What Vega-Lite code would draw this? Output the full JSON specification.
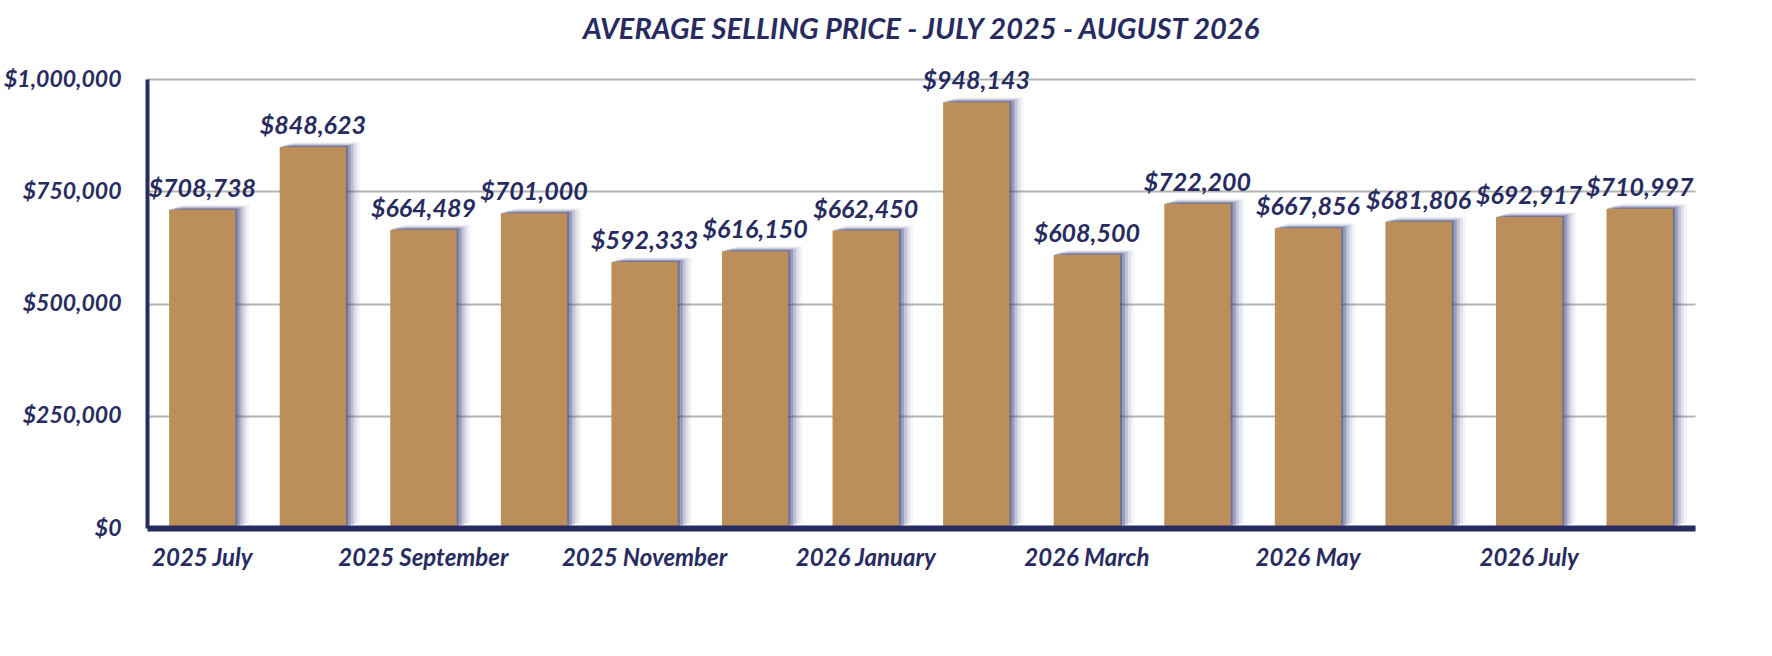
{
  "$schema": "https://vega.github.io/schema/vega-lite/v6.json",
  "width": 1548,
  "height": 449,
  "autosize": "none",
  "padding": {"left": 147, "top": 79, "right": 77, "bottom": 128},
  "background": "white",
  "view": {"stroke": null},
  "title": {
    "text": "AVERAGE SELLING PRICE - JULY 2025 - AUGUST 2026",
    "font": "Lato",
    "fontSize": 29,
    "fontWeight": "bold",
    "fontStyle": "italic",
    "color": "#272b60",
    "offset": 23,
    "anchor": "middle"
  },
  "data": {
    "values": [
      {"month": "2025 July", "price": 708738},
      {"month": "2025 August", "price": 848623},
      {"month": "2025 September", "price": 664489},
      {"month": "2025 October", "price": 701000},
      {"month": "2025 November", "price": 592333},
      {"month": "2025 December", "price": 616150},
      {"month": "2026 January", "price": 662450},
      {"month": "2026 February", "price": 948143},
      {"month": "2026 March", "price": 608500},
      {"month": "2026 April", "price": 722200},
      {"month": "2026 May", "price": 667856},
      {"month": "2026 June", "price": 681806},
      {"month": "2026 July", "price": 692917},
      {"month": "2026 August", "price": 710997}
    ]
  },
  "encoding": {
    "x": {
      "field": "month",
      "type": "nominal",
      "sort": null,
      "scale": {"paddingInner": 0.4, "paddingOuter": 0.2},
      "axis": {
        "title": null,
        "labelAngle": 0,
        "values": ["2025 July", "2025 September", "2025 November", "2026 January", "2026 March", "2026 May", "2026 July"],
        "ticks": false,
        "labelFont": "Lato",
        "labelFontSize": 24,
        "labelFontWeight": "bold",
        "labelFontStyle": "italic",
        "labelColor": "#272b60",
        "labelPadding": 18,
        "domainColor": "#272b60",
        "domainWidth": 6,
        "zindex": 1
      }
    },
    "y": {
      "field": "price",
      "type": "quantitative",
      "scale": {"domain": [0, 1000000]},
      "axis": {
        "title": null,
        "values": [0, 250000, 500000, 750000, 1000000],
        "format": "$,.0f",
        "ticks": false,
        "labelFont": "Lato",
        "labelFontSize": 23,
        "labelFontWeight": "bold",
        "labelFontStyle": "italic",
        "labelColor": "#272b60",
        "labelPadding": 26,
        "domainColor": "#272b60",
        "domainWidth": 4,
        "gridColor": "#b3b3b3",
        "gridWidth": 2
      }
    }
  },
  "layer": [
    {
      "mark": {"type": "bar", "color": "#6a70a0", "opacity": 0.08, "xOffset": 14, "yOffset": -5}
    },
    {
      "mark": {"type": "bar", "color": "#5a6090", "opacity": 0.12, "xOffset": 11, "yOffset": -4}
    },
    {
      "mark": {"type": "bar", "color": "#4a5085", "opacity": 0.2, "xOffset": 8, "yOffset": -3}
    },
    {
      "mark": {"type": "bar", "color": "#3d4378", "opacity": 0.3, "xOffset": 5, "yOffset": -2}
    },
    {
      "mark": {"type": "bar", "color": "#2f3568", "opacity": 0.4, "xOffset": 2, "yOffset": -1}
    },
    {
      "mark": {"type": "bar", "color": "#bc8e5a"}
    },
    {
      "mark": {
        "type": "text",
        "baseline": "bottom",
        "dy": -8,
        "font": "Lato",
        "fontSize": 25,
        "fontWeight": "bold",
        "fontStyle": "italic",
        "color": "#272b60"
      },
      "encoding": {
        "text": {"field": "price", "type": "quantitative", "format": "$,.0f"}
      }
    }
  ]
}
